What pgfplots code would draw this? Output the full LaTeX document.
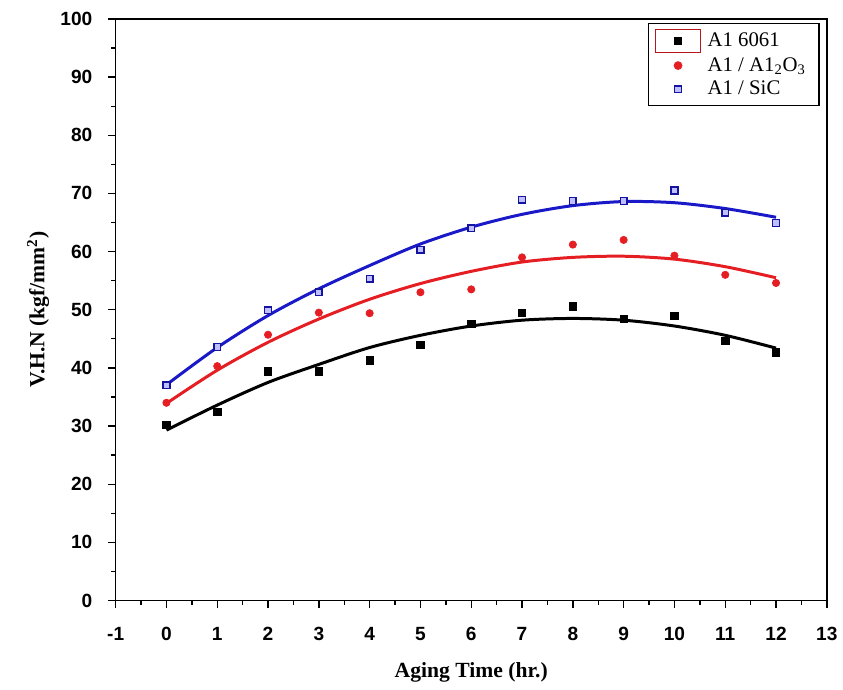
\documentclass[border=0pt]{standalone}
\usepackage{fontspec}
\setmainfont{Liberation Serif}
\setsansfont{Liberation Sans}
\usepackage{pgfplots}
\pgfplotsset{compat=1.18}

\definecolor{ptred}{RGB}{228,30,35}
\definecolor{ptblue}{RGB}{25,25,200}

\begin{document}
\begin{tikzpicture}
\begin{axis}[
    scale only axis,
    width=428pt, height=350pt,
    xmin=-1, xmax=13,
    ymin=0, ymax=100,
    xtick={-1,0,...,13},
    ytick={0,10,...,100},
    minor x tick num=1,
    minor y tick num=1,
    tick align=outside,
    xtick pos=left, ytick pos=left,
    major tick length=4.5pt,
    minor tick length=2.5pt,
    axis line style={line width=0.9pt},
    every tick/.style={line width=0.8pt, black},
    /pgf/number format/assume math mode=true,
    ticklabel style={font=\sffamily\bfseries\fontsize{11.5}{13}\selectfont},
    xticklabel style={yshift=-8pt},
    yticklabel style={xshift=-6pt},
    xlabel={Aging Time (hr.)},
    ylabel={V.H.N (kgf/mm\textsuperscript{2})},
    label style={font=\bfseries\fontsize{13}{15}\selectfont},
    xlabel style={yshift=-6pt},
    ylabel style={yshift=0pt},
    legend style={at={(0.99,0.993)}, anchor=north east,
        font=\fontsize{12.5}{14}\selectfont, draw=black, line width=0.8pt,
        row sep=0.5pt, inner xsep=4pt, inner ysep=3pt,
        nodes={inner xsep=4pt}},
    legend cell align=left,
]
% fitted curves
\addplot[black, line width=1.8pt, smooth, forget plot] coordinates {
    (0,29.3) (1,33.6) (2,37.5) (3,40.6) (4,43.5) (5,45.6) (6,47.2)
    (7,48.2) (8,48.5) (9,48.2) (10,47.2) (11,45.6) (12,43.4)
};
\addplot[ptred, line width=1.8pt, smooth, forget plot] coordinates {
    (0,33.9) (1,39.6) (2,44.4) (3,48.4) (4,51.8) (5,54.5) (6,56.6)
    (7,58.2) (8,59.0) (9,59.2) (10,58.7) (11,57.4) (12,55.5)
};
\addplot[ptblue, line width=1.8pt, smooth, forget plot] coordinates {
    (0,37.1) (1,43.5) (2,49.0) (3,53.6) (4,57.6) (5,61.3) (6,64.2)
    (7,66.4) (8,67.9) (9,68.6) (10,68.4) (11,67.4) (12,65.9)
};
% measured points
\addplot[only marks, mark=square*, mark size=2.2pt, black,
    legend image code/.code={
        \draw[ptred!80!black, line width=0.6pt] (-0.1cm,-0.25cm) rectangle (0.85cm,0.25cm);
        \draw[mark repeat=1] plot coordinates {(0.375cm,0cm)};}]
    coordinates {
    (0,30.2) (1,32.4) (2,39.4) (3,39.4) (4,41.3) (5,44.0) (6,47.6)
    (7,49.5) (8,50.6) (9,48.4) (10,49.0) (11,44.6) (12,42.7)
};
\addlegendentry{A1 6061}
\addplot[only marks, mark=*, mark size=2.2pt, ptred,
    legend image code/.code={\draw[mark repeat=1] plot coordinates {(0.375cm,0cm)};}]
    coordinates {
    (0,34.0) (1,40.3) (2,45.7) (3,49.5) (4,49.4) (5,53.0) (6,53.5)
    (7,59.0) (8,61.2) (9,62.0) (10,59.3) (11,56.0) (12,54.6)
};
\addlegendentry{A1 / A1\textsubscript{2}O\textsubscript{3}}
\addplot[only marks, mark=square*, mark size=2.0pt, ptblue,
    mark options={fill=blue!25, draw=ptblue!80!black, line width=0.9pt},
    legend image code/.code={\draw[mark repeat=1] plot coordinates {(0.375cm,0cm)};}]
    coordinates {
    (0,37.0) (1,43.6) (2,49.9) (3,53.0) (4,55.3) (5,60.3) (6,64.0)
    (7,68.9) (8,68.7) (9,68.7) (10,70.5) (11,66.7) (12,64.9)
};
\addlegendentry{A1 / SiC}
\end{axis}
\path (current axis.south west) ++(-69.6pt,-53.4pt) coordinate (bbsw);
\path (current axis.north east) ++(8.4pt,11.4pt) coordinate (bbne);
\useasboundingbox (bbsw) rectangle (bbne);
\end{tikzpicture}
\end{document}
